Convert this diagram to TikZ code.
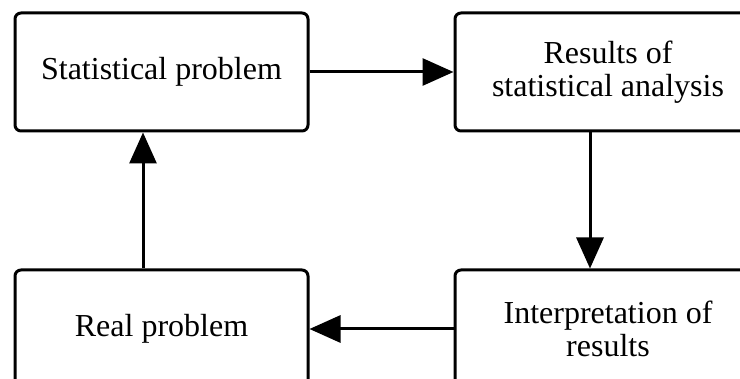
\documentclass[tikz,border=0pt]{standalone}
\usepackage{fontspec}
\setmainfont{Liberation Serif}
\usetikzlibrary{positioning, arrows.meta}

\begin{document}
\begin{tikzpicture}[x=1pt, y=-1pt,
  box/.style={draw, line width=3pt, rounded corners=6pt, minimum width=293pt, minimum height=118pt, align=center, font=\fontsize{32}{33}\selectfont},
  wide/.style={box, minimum width=306pt},
  link/.style={line width=3pt, -{Triangle[length=31pt, width=27pt]}}]

  \useasboundingbox (0,0) rectangle (740,379);
  \clip (0,0) rectangle (740,379);

  \node[box] (stat) at (161.5,72) {Statistical problem};
  \node[wide, right=144pt of stat] (results) {Results of\\statistical analysis};
  \node[box, below=136pt of stat] (real) {Real problem};
  \node[wide, below=136pt of results] (interp) {Interpretation of\\results};

  \draw[link] (stat) -- (results);
  \draw[link] ([xshift=-18pt]results.south) -- ([xshift=-18pt]interp.north);
  \draw[link] (interp.west) -- (real.east);
  \draw[link] ([xshift=-18.5pt]real.north) -- ([xshift=-18.5pt]stat.south);
\end{tikzpicture}
\end{document}
